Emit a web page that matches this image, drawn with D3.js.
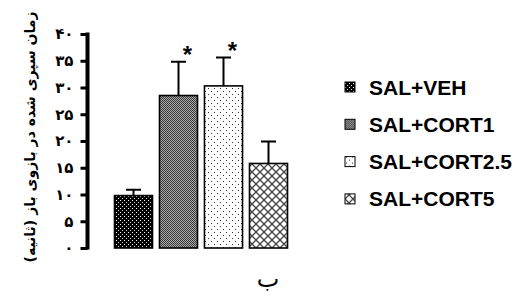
<!DOCTYPE html>
<html>
<head>
<meta charset="utf-8">
<script src="https://cdn.jsdelivr.net/npm/d3@7"></script>
<style>
  body { margin: 0; background: #fff; }
  svg { display: block; }
</style>
</head>
<body>
<div id="chart"></div>
<script>
(function() {
	// data
	var groups = ["SAL+VEH", "SAL+CORT1", "SAL+CORT2.5", "SAL+CORT5"];
	var means = [9.8, 28.5, 30.3, 15.8];
	var sems = [1.1, 6.3, 5.3, 4.1];
	var stars = ["", "*", "*", ""];
	var yTicks = [0, 5, 10, 15, 20, 25, 30, 35, 40];
	var yTickLabels = ["۰", "۵", "۱۰", "۱۵", "۲۰", "۲۵", "۳۰", "۳۵", "۴۰"];
	var yTitle = "زمان سپری شده در بازوی باز (ثانیه)";
	var xTitle = "ب";

	var width = 517, height = 295;

	var svg = d3.select("#chart")
				.append("svg")
				.attr("width", width)
				.attr("height", height);

	var defs = svg.append("defs");

	// pattern fills, one per group
	var p1 = defs.append("pattern").attr("id", "pat0")
		.attr("patternUnits", "userSpaceOnUse").attr("width", 4).attr("height", 4);
	p1.append("rect").attr("width", 4).attr("height", 4).attr("fill", "#000");
	p1.append("rect").attr("x", 0).attr("y", 0).attr("width", 1).attr("height", 1).attr("fill", "#fff");
	p1.append("rect").attr("x", 2).attr("y", 2).attr("width", 1).attr("height", 1).attr("fill", "#ddd");

	var p2 = defs.append("pattern").attr("id", "pat1")
		.attr("patternUnits", "userSpaceOnUse").attr("width", 2).attr("height", 2);
	p2.append("rect").attr("width", 2).attr("height", 2).attr("fill", "#b0b0b0");
	p2.append("rect").attr("x", 0).attr("y", 0).attr("width", 1).attr("height", 1).attr("fill", "#333");
	p2.append("rect").attr("x", 1).attr("y", 1).attr("width", 1).attr("height", 1).attr("fill", "#333");

	var p3 = defs.append("pattern").attr("id", "pat2")
		.attr("patternUnits", "userSpaceOnUse").attr("width", 6).attr("height", 6);
	p3.append("rect").attr("width", 6).attr("height", 6).attr("fill", "#fff");
	p3.append("rect").attr("x", 1).attr("y", 1).attr("width", 1).attr("height", 1).attr("fill", "#333");
	p3.append("rect").attr("x", 4).attr("y", 4).attr("width", 1).attr("height", 1).attr("fill", "#333");

	var p4 = defs.append("pattern").attr("id", "pat3")
		.attr("patternUnits", "userSpaceOnUse").attr("width", 8).attr("height", 8);
	p4.append("rect").attr("width", 8).attr("height", 8).attr("fill", "#fff");
	p4.append("path").attr("d", "M0,0L8,8M8,0L0,8")
		.attr("stroke", "#444").attr("stroke-width", 1.3).attr("fill", "none");

	// scales
	var xScale = d3.scaleBand().domain(groups).range([111, 291])
		.paddingInner(0.155).paddingOuter(0.0775);
	var yScale = d3.scaleLinear().domain([0, 40]).range([248, 34]);

	// y axis
	var yAxis = d3.axisLeft(yScale)
		.tickValues(yTicks)
		.tickSize(7)
		.tickPadding(7)
		.tickFormat(function(d, i) { return yTickLabels[i]; });

	var gy = svg.append("g")
		.attr("transform", "translate(87.5,0)")
		.call(yAxis);
	gy.select(".domain").attr("stroke-width", 4).attr("d", "M0," + (yScale(40) - 1.5) + "V" + (yScale(0) + 1.5));
	gy.selectAll(".tick line").attr("stroke-width", 3);
	gy.selectAll(".tick text")
		.style("font-family", "'DejaVu Sans', sans-serif")
		.style("font-weight", "bold")
		.style("font-size", "15px");

	// bars
	svg.selectAll(".bar")
		.data(groups)
		.enter()
		.append("rect")
		.attr("class", "bar")
		.attr("x", function(d) { return xScale(d); })
		.attr("width", xScale.bandwidth())
		.attr("y", function(d, i) { return yScale(means[i]); })
		.attr("height", function(d, i) { return yScale(0) - yScale(means[i]); })
		.attr("fill", function(d, i) { return "url(#pat" + i + ")"; })
		.attr("stroke", "#000")
		.attr("stroke-width", 1.6);

	// error bars (upper only)
	var cx = function(d) { return xScale(d) + xScale.bandwidth() / 2; };
	svg.selectAll(".err")
		.data(groups)
		.enter()
		.append("path")
		.attr("class", "err")
		.attr("d", function(d, i) {
			var top = yScale(means[i] + sems[i]);
			return "M" + cx(d) + "," + yScale(means[i]) + "V" + top +
				"M" + (cx(d) - 7.5) + "," + top + "H" + (cx(d) + 7.5);
		})
		.attr("stroke", "#000")
		.attr("stroke-width", 2)
		.attr("fill", "none");

	// significance stars
	svg.selectAll(".star")
		.data(groups)
		.enter()
		.append("text")
		.attr("class", "star")
		.attr("x", function(d) { return cx(d) + 9; })
		.attr("y", function(d, i) { return yScale(means[i] + sems[i]) + 1; })
		.attr("text-anchor", "middle")
		.style("font-family", "'Liberation Sans', Arial, sans-serif")
		.style("font-weight", "bold")
		.style("font-size", "24px")
		.text(function(d, i) { return stars[i]; });

	// axis titles
	svg.append("text")
		.attr("transform", "translate(35,137) rotate(-90)")
		.attr("text-anchor", "middle")
		.style("font-family", "'DejaVu Sans', sans-serif")
		.style("font-weight", "bold")
		.style("font-size", "14px")
		.text(yTitle);

	svg.append("text")
		.attr("x", 268)
		.attr("y", 287)
		.attr("text-anchor", "middle")
		.style("font-family", "'DejaVu Sans', sans-serif")
		.style("font-size", "24px")
		.text(xTitle);

	// legend
	var legend = svg.selectAll(".legend")
		.data(groups)
		.enter()
		.append("g")
		.attr("class", "legend")
		.attr("transform", function(d, i) { return "translate(345," + (87 + i * 37.3) + ")"; });

	legend.append("rect")
		.attr("x", 0)
		.attr("y", -5)
		.attr("width", 10)
		.attr("height", 10)
		.attr("fill", function(d, i) { return "url(#pat" + i + ")"; })
		.attr("stroke", "#000")
		.attr("stroke-width", 1);

	legend.append("text")
		.attr("x", 24)
		.attr("y", 7.5)
		.style("font-family", "'Liberation Sans', Arial, sans-serif")
		.style("font-weight", "bold")
		.style("font-size", "21px")
		.text(function(d) { return d; });
})();
</script>
</body>
</html>
